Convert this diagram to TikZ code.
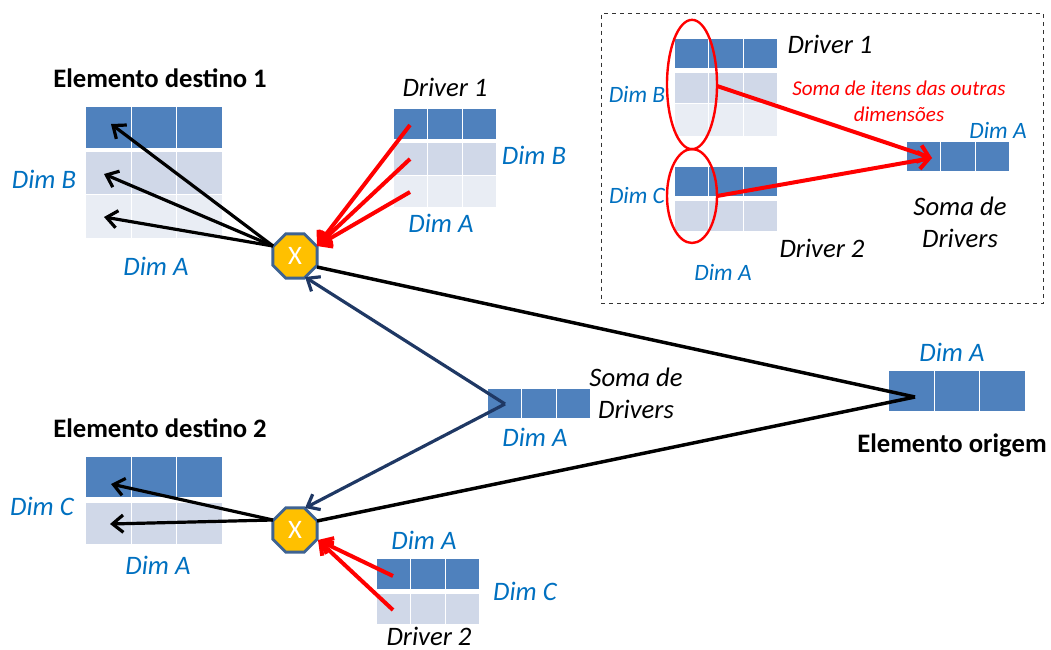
\documentclass[tikz,border=0pt]{standalone}
\usepackage{fontspec}
\usepackage{xcolor}
\usetikzlibrary{shapes.geometric,arrows.meta}
\setmainfont{Carlito}
\definecolor{cellDark}{HTML}{4F81BD}
\definecolor{cellMid}{HTML}{D0D8E8}
\definecolor{cellLight}{HTML}{E9EDF4}
\definecolor{dimBlue}{HTML}{0070C0}
\definecolor{sumNavy}{HTML}{1F3864}
\definecolor{octaFill}{HTML}{FFC000}
\definecolor{octaEdge}{HTML}{3E6392}
\tikzset{
  cell/.style={rectangle,draw=white,line width=0.6pt,inner sep=0pt,outer sep=0pt,anchor=north west},
  dark/.style={cell,fill=cellDark},
  mid/.style={cell,fill=cellMid},
  light/.style={cell,fill=cellLight},
  dim/.style={font=\fontsize{20}{22}\selectfont\itshape,text=dimBlue,inner sep=0pt},
  insdim/.style={dim,font=\fontsize{17.6}{20}\selectfont\itshape},
  tag/.style={font=\fontsize{20}{24}\selectfont\itshape,align=center,inner sep=0pt},
  head/.style={font=\fontsize{20}{22}\selectfont\bfseries,inner sep=0pt},
  blackarrow/.style={draw=black,line width=2.4pt,-{Straight Barb[length=8pt,width=13pt]}},
  redarrow/.style={draw=red,line width=3pt,-{Straight Barb[length=8pt,width=13pt]}},
  navyarrow/.style={draw=sumNavy,line width=2.4pt,-{Straight Barb[length=8pt,width=13pt]}},
  plainline/.style={draw=black,line width=2.6pt},
  octa/.style={regular polygon,regular polygon sides=8,fill=octaFill,draw=octaEdge,line width=2.2pt,
    minimum size=36pt,inner sep=0pt,text=white,font=\fontsize{20}{22}\selectfont},
  ring/.style={ellipse,draw=red,line width=1.8pt,inner sep=0pt}
}
% one row of three cells: name, x, y, cell width, height, style
\newcommand{\gridrow}[6]{
\node[#6,minimum width=#4*0.75pt,minimum height=#5*0.75pt] (#1a) at ({#2-0.6},{#3-0.6}) {};
\node[#6,minimum width=#4*0.75pt,minimum height=#5*0.75pt] (#1b) at (#1a.north east) {};
\node[#6,minimum width=#4*0.75pt,minimum height=#5*0.75pt] (#1c) at (#1b.north east) {};
}
\begin{document}
\begin{tikzpicture}[x=0.75pt,y=-0.75pt]
\useasboundingbox (0,0) rectangle (1051,650);

% tables
\gridrow{destAr}{86}{107}{45.6}{42}{dark}
\gridrow{destAs}{86}{152}{45.6}{43}{mid}
\gridrow{destAt}{86}{195}{45.6}{44}{light}
\gridrow{drvAr}{394}{109}{34.3}{31}{dark}
\gridrow{drvAs}{394}{143}{34.3}{33}{mid}
\gridrow{drvAt}{394}{176}{34.3}{32}{light}
\gridrow{sumr}{488}{389}{34.3}{30}{dark}
\gridrow{origr}{889}{371}{45.6}{41}{dark}
\gridrow{destBr}{86}{457}{45.6}{41}{dark}
\gridrow{destBs}{86}{503}{45.6}{42}{mid}
\gridrow{drvBr}{377}{559}{34.3}{31}{dark}
\gridrow{drvBs}{377}{594}{34.3}{31}{mid}
\gridrow{insAr}{675}{39}{34.3}{30}{dark}
\gridrow{insAs}{675}{73}{34.3}{31}{mid}
\gridrow{insAt}{675}{104}{34.3}{33}{light}
\gridrow{insBr}{675}{167}{34.3}{30}{dark}
\gridrow{insBs}{675}{201}{34.3}{31}{mid}
\gridrow{inssum}{907}{142}{34.3}{30}{dark}

% inset
\node (frame) at (822,158.5) [rectangle,draw=black!80,dashed,line width=0.7pt,minimum width=331.5pt,minimum height=218pt] {};
\node (ringB) at (692,84.5) [ring,minimum width=37.5pt,minimum height=97pt] {};
\node (ringC) at (692,196) [ring,minimum width=37.5pt,minimum height=70.5pt] {};

% octagons
\node (octaA) at (295,256) [octa] {X};
\node (octaB) at (295,530) [octa] {X};

% connector ends
\coordinate (octaAw) at (273,246);
\coordinate (octaBw) at (273,520);
\coordinate (octaAe) at (317,267);
\coordinate (octaBe) at (317,521);
\coordinate (origin) at (915,397);
\coordinate (sumfrom) at (505,404);
\coordinate (tipA) at (111,124);
\coordinate (tipB) at (104,174);
\coordinate (tipC) at (104,217);
\coordinate (tipD) at (111,484);
\coordinate (tipE) at (110,524);
\coordinate (srcA) at (410,125);
\coordinate (srcB) at (410,159);
\coordinate (srcC) at (410,192);
\coordinate (sinkA) at (317,246);
\coordinate (srcD) at (393,576);
\coordinate (srcE) at (393,610);
\coordinate (sinkD) at (318,540);
\coordinate (navyA) at (305,277);
\coordinate (navyB) at (305,508);
\coordinate (insfromB) at (717,86);
\coordinate (insfromC) at (717,196);
\coordinate (instip) at (932,158);

\draw[blackarrow] (octaAw) -- (tipA);
\draw[blackarrow] (octaAw) -- (tipB);
\draw[blackarrow] (octaAw) -- (tipC);
\draw[blackarrow] (octaBw) -- (tipD);
\draw[blackarrow] (octaBw) -- (tipE);
\draw[plainline] (octaAe) -- (origin);
\draw[plainline] (octaBe) -- (origin);
\draw[navyarrow] (sumfrom) -- (navyA);
\draw[navyarrow] (sumfrom) -- (navyB);
\draw[redarrow] (srcA) -- (sinkA);
\draw[redarrow] (srcB) -- (sinkA);
\draw[redarrow] (srcC) -- (sinkA);
\draw[redarrow] (srcD) -- (sinkD);
\draw[redarrow] (srcE) -- (sinkD);
\draw[redarrow] (insfromB) -- (instip);
\draw[redarrow] (insfromC) -- (instip);

% labels
\node (headA) at (160,78) [head] {Elemento destino 1};
\node (headB) at (160,428) [head] {Elemento destino 2};
\node (headC) at (952,445) [head] {Elemento origem};
\node (dimAa) at (44,179) [dim] {Dim B};
\node (dimAb) at (156,266) [dim] {Dim A};
\node (dimAc) at (534,155) [dim] {Dim B};
\node (dimAd) at (441,223) [dim] {Dim A};
\node (dimBa) at (535,437) [dim] {Dim A};
\node (dimBb) at (952,352) [dim] {Dim A};
\node (dimCa) at (42,506) [dim] {Dim C};
\node (dimCb) at (158,565) [dim] {Dim A};
\node (dimCc) at (424,540) [dim] {Dim A};
\node (dimCd) at (525,591) [dim] {Dim C};
\node (insdimA) at (998,130) [insdim] {Dim A};
\node (insdimB) at (637,94) [insdim] {Dim B};
\node (insdimC) at (637,196) [insdim] {Dim C};
\node (insdimD) at (723,272) [insdim] {Dim A};
\node (drvA) at (445,87) [tag] {Driver 1};
\node (drvB) at (429,636) [tag] {Driver 2};
\node (sumtag) at (636,393) [tag] {Soma de\\Drivers};
\node (insdrvA) at (830,44) [tag] {Driver 1};
\node (insdrvB) at (822,248) [tag] {Driver 2};
\node (inssumtag) at (960,222) [tag] {Soma de\\Drivers};
\node (instext) at (899,101) [tag,text=red,font=\fontsize{15.8}{19.5}\selectfont\itshape] {Soma de itens das outras\\dimensões};
\end{tikzpicture}
\end{document}
